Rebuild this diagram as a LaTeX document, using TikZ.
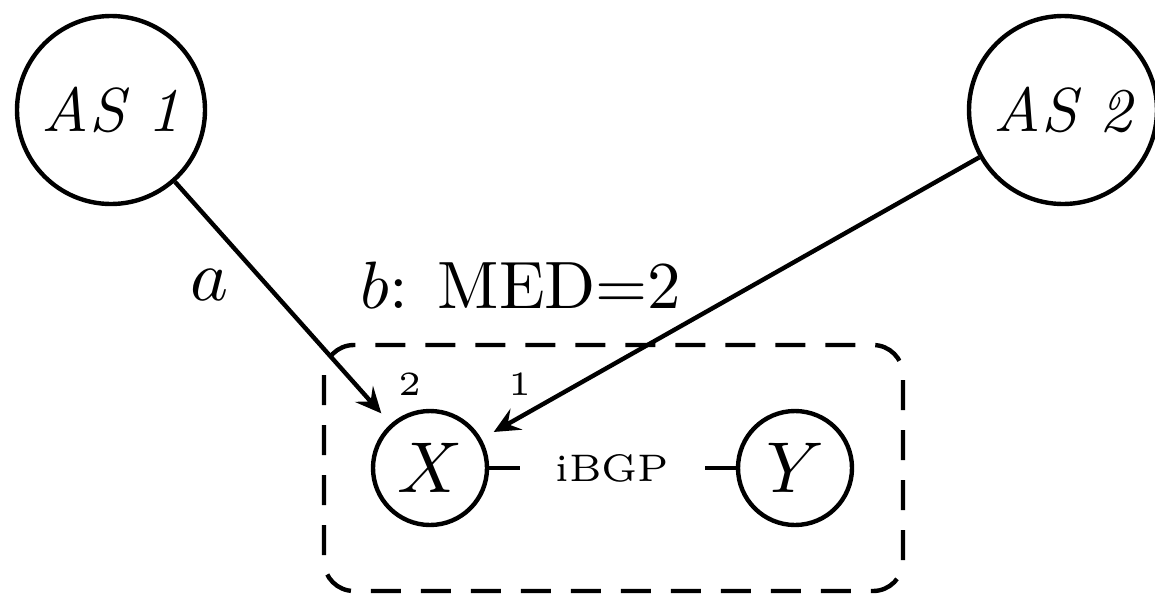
\documentclass[tikz,border=0pt]{standalone}
\usepackage{fix-cm}
\usetikzlibrary{arrows.meta}
\newcommand{\sctext}[3]{\scalebox{#1}{\fontsize{#2}{#2}\selectfont #3}}
\tikzset{
  asnode/.style={circle, draw, line width=2.2pt, inner sep=0pt, minimum size=94pt},
  rnode/.style={circle, draw, line width=2.2pt, inner sep=0pt, minimum size=57pt},
  arr/.style={-{Stealth[length=13pt,width=12pt,inset=5pt]}, shorten >=7pt},
  box/.style={draw, dash pattern=on 15pt off 10pt, rounded corners=15pt, line width=2.2pt},
}
\begin{document}
\begin{tikzpicture}[x=0.5pt,y=-0.5pt,line width=2.2pt]
\useasboundingbox (0,0) rectangle (1155,595);
\draw[box] (324,345) rectangle (903,591);
\node[asnode] (as1) at (111,110) {\sctext{3.45}{9}{\itshape AS 1}};
\node[asnode] (as2) at (1063,110) {\sctext{3.45}{9}{\itshape AS 2}};
\node[rnode] (x) at (430,468) {\sctext{3.6}{10}{$X$}};
\node[rnode] (y) at (795,468) {\sctext{3.6}{10}{$Y$}};
\draw[arr] (as1) -- (x);
\draw[arr] (as2) -- (x);
\draw (x) -- node[fill=white, inner xsep=18pt] {\sctext{3.2}{6}{iBGP}} (y);
\node (la) at (210,285) {\sctext{3.6}{10}{$a$}};
\node (lb) at (521,285) {\sctext{3.35}{10}{$b$: MED=2}};
\node (n2) at (410,384) {\sctext{3.4}{5}{2}};
\node (n1) at (520,384) {\sctext{3.4}{5}{1}};
\end{tikzpicture}
\end{document}
